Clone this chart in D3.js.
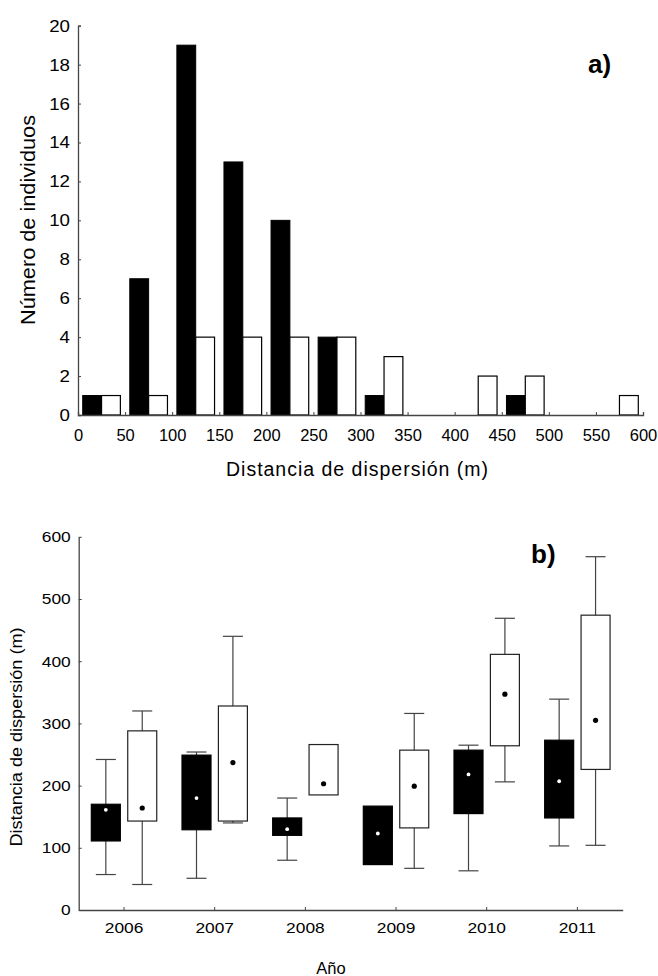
<!DOCTYPE html>
<html>
<head>
<meta charset="utf-8">
<script src="https://cdn.jsdelivr.net/npm/d3@7"></script>
<style>
  html, body { margin: 0; padding: 0; background: #fff; }
  svg { display: block; }
  text { font-family: "Liberation Sans", Arial, Helvetica, sans-serif; fill: #000; }
</style>
</head>
<body>
<svg id="fig" width="658" height="976"></svg>
<script>
// ---- Panel a) histogram of dispersal distances (50 m bins) ----
const binStarts = [0, 50, 100, 150, 200, 250, 300, 350, 400, 450, 500, 550];
const countsBlack = [1, 7, 19, 13, 10, 4, 1, 0, 0, 1, 0, 0];
const countsWhite = [1, 1, 4, 4, 4, 4, 3, 0, 2, 2, 0, 1];
const histXTicks = [0, 50, 100, 150, 200, 250, 300, 350, 400, 450, 500, 550, 600];
const histYTicks = [0, 2, 4, 6, 8, 10, 12, 14, 16, 18, 20];

// ---- Panel b) dispersal distance by year (box plots) ----
const years = ["2006", "2007", "2008", "2009", "2010", "2011"];
// each entry: [whiskerLow, q1, q3, whiskerHigh, mean]
const boxesBlack = [
  [57, 111, 170, 242, 161],
  [51, 129, 249, 254, 180],
  [80, 120, 148, 180, 130],
  [73, 73, 167, 167, 123],
  [63, 155, 257, 265, 218],
  [103, 148, 273, 339, 207]
];
const boxesWhite = [
  [41, 143, 288, 320, 164],
  [140, 143, 328, 440, 237],
  [185, 185, 266, 266, 203],
  [67, 132, 257, 316, 199],
  [206, 264, 411, 469, 347],
  [104, 226, 474, 568, 305]
];
const boxYTicks = [0, 100, 200, 300, 400, 500, 600];

const svg = d3.select("#fig");
const axisColor = "#444";

// widen text horizontally by factor k
function stretch(sel, k) {
  sel.each(function () {
    const w = this.getComputedTextLength();
    d3.select(this).attr("textLength", w * k).attr("lengthAdjust", "spacingAndGlyphs");
  });
}

// ================= Panel a =================
const xA = d3.scaleLinear().domain([0, 600]).range([78, 643]);
const yA = d3.scaleLinear().domain([0, 20]).range([415, 25.7]);

const gA = svg.append("g");

// bars
const bins = binStarts.map((b, i) => ({ b, black: countsBlack[i], white: countsWhite[i] }));
gA.selectAll("rect.black").data(bins.filter(d => d.black > 0)).join("rect")
  .attr("x", d => xA(d.b + 5))
  .attr("width", d => xA(d.b + 25) - xA(d.b + 5))
  .attr("y", d => yA(d.black))
  .attr("height", d => yA(0) - yA(d.black))
  .attr("fill", "#000").attr("stroke", "#000").attr("stroke-width", 1);
gA.selectAll("rect.white").data(bins.filter(d => d.white > 0)).join("rect")
  .attr("x", d => xA(d.b + 25))
  .attr("width", d => xA(d.b + 45) - xA(d.b + 25))
  .attr("y", d => yA(d.white))
  .attr("height", d => yA(0) - yA(d.white))
  .attr("fill", "#fff").attr("stroke", "#000").attr("stroke-width", 1.2);

// axes
const axA_x = gA.append("g").attr("transform", `translate(0,${yA(0)})`)
  .call(d3.axisBottom(xA).tickValues(histXTicks).tickSize(-3).tickPadding(8).tickFormat(d3.format("d")));
const axA_y = gA.append("g").attr("transform", `translate(${xA(0)},0)`)
  .call(d3.axisLeft(yA).tickValues(histYTicks).tickSize(-3).tickPadding(8).tickFormat(d3.format("d")));
[axA_x, axA_y].forEach(a => {
  a.select(".domain").attr("stroke", axisColor).attr("stroke-width", 1.3);
  a.selectAll(".tick line").attr("stroke", axisColor);
  a.selectAll("text").attr("font-size", 16.5).attr("font-family", null);
});
axA_y.selectAll("text").attr("font-size", 17).call(stretch, 1.1);
axA_x.selectAll("text").attr("y", 14).attr("dy", "0.71em");

gA.append("text")
  .attr("x", 357).attr("y", 476).attr("text-anchor", "middle")
  .attr("font-size", 19.5).attr("textLength", 262).attr("lengthAdjust", "spacing")
  .text("Distancia de dispersión (m)");
gA.append("text")
  .attr("transform", "translate(35,220) rotate(-90)")
  .attr("text-anchor", "middle").attr("font-size", 21)
  .attr("textLength", 210).attr("lengthAdjust", "spacingAndGlyphs")
  .text("Número de individuos");
gA.append("text")
  .attr("x", 588).attr("y", 72.5).attr("font-size", 26).attr("font-weight", "bold")
  .text("a)");

// ================= Panel b =================
const xB = d3.scaleBand().domain(years).range([78.7, 622.7]).padding(0);
const yB = d3.scaleLinear().domain([0, 600]).range([910, 536.8]);
const offset = d3.scalePoint().domain(["black", "white"]).range([-18.2, 18.2]);
const boxW = 29, capW = 20;

const gB = svg.append("g");

const boxData = [];
years.forEach((yr, i) => {
  boxData.push({ yr, s: "black", v: boxesBlack[i] });
  boxData.push({ yr, s: "white", v: boxesWhite[i] });
});
const cx = d => xB(d.yr) + xB.bandwidth() / 2 + offset(d.s);

const box = gB.selectAll("g.box").data(boxData).join("g").attr("class", "box");
// whisker stems
box.append("line")
  .attr("x1", cx).attr("x2", cx)
  .attr("y1", d => yB(d.v[3])).attr("y2", d => yB(d.v[0]))
  .attr("stroke", axisColor).attr("stroke-width", 1.2);
// caps (skipped where the whisker ends at the box edge)
[0, 3].forEach(k => {
  box.filter(d => d.v[k] !== d.v[k === 0 ? 1 : 2]).append("line")
    .attr("x1", d => cx(d) - capW / 2).attr("x2", d => cx(d) + capW / 2)
    .attr("y1", d => yB(d.v[k])).attr("y2", d => yB(d.v[k]))
    .attr("stroke", axisColor).attr("stroke-width", 1.2);
});
// boxes
box.append("rect")
  .attr("x", d => cx(d) - boxW / 2).attr("width", boxW)
  .attr("y", d => yB(d.v[2])).attr("height", d => yB(d.v[1]) - yB(d.v[2]))
  .attr("fill", d => d.s === "black" ? "#000" : "#fff")
  .attr("stroke", d => d.s === "black" ? "#000" : "#222").attr("stroke-width", 1.2);
// means
box.append("circle")
  .attr("cx", cx).attr("cy", d => yB(d.v[4]))
  .attr("r", d => d.s === "black" ? 1.9 : 2.6)
  .attr("fill", d => d.s === "black" ? "#fff" : "#000");

const axB_x = gB.append("g").attr("transform", `translate(0,${yB(0)})`)
  .call(d3.axisBottom(xB).tickSize(-3).tickPadding(8).tickSizeOuter(0));
const axB_y = gB.append("g").attr("transform", `translate(${xB.range()[0]},0)`)
  .call(d3.axisLeft(yB).tickValues(boxYTicks).tickSize(-3).tickPadding(8).tickSizeOuter(0).tickFormat(d3.format("d")));
[axB_x, axB_y].forEach(a => {
  a.select(".domain").attr("stroke", axisColor).attr("stroke-width", 1.3);
  a.selectAll(".tick line").attr("stroke", axisColor);
  a.selectAll("text").attr("font-size", 15.5).attr("font-family", null).call(stretch, 1.12);
});
axB_x.selectAll("text").attr("y", 12).attr("dy", "0.71em");

gB.append("text")
  .attr("transform", "translate(22,737) rotate(-90)")
  .attr("text-anchor", "middle").attr("font-size", 16)
  .attr("textLength", 219).attr("lengthAdjust", "spacingAndGlyphs")
  .text("Distancia de dispersión (m)");
gB.append("text")
  .attr("x", 331).attr("y", 974).attr("text-anchor", "middle").attr("font-size", 16.5)
  .text("Año");
gB.append("text")
  .attr("x", 531).attr("y", 563).attr("font-size", 26).attr("font-weight", "bold")
  .text("b)");
</script>
</body>
</html>
